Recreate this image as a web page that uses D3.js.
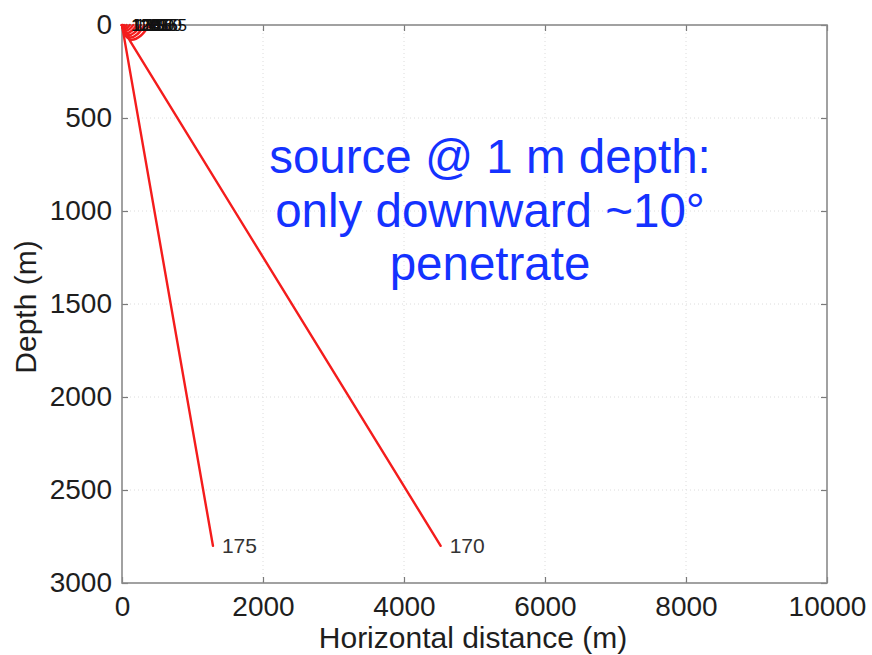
<!DOCTYPE html>
<html>
<head>
<meta charset="utf-8">
<script src="https://cdn.jsdelivr.net/npm/d3@7/dist/d3.min.js"></script>
<style>
  html, body { margin: 0; padding: 0; background: #fff; }
  svg { display: block; }
  text { font-family: "Liberation Sans", Arial, Helvetica, sans-serif; }
</style>
</head>
<body>
<svg id="chart" width="872" height="655"></svg>
<script>
// Axis ticks (metres)
const xTicks = [0, 2000, 4000, 6000, 8000, 10000];
const yTicks = [0, 500, 1000, 1500, 2000, 2500, 3000];

// Ray paths as [horizontal distance, depth] in metres, keyed by launch angle (deg)
const rayAngles = [120, 125, 130, 135, 140, 145, 150, 155, 160, 165, 170, 175];
const ray120 = [[0, 1], [0, 0]];
const ray125 = [[0, 1], [3, 2], [8, 0]];
const ray130 = [[0, 1], [6, 7], [12, 8], [22, 5], [30, 0]];
const ray135 = [[0, 1], [12, 12], [24, 14], [45, 10], [65, 0]];
const ray140 = [[0, 1], [20, 18], [40, 22], [75, 15], [110, 0]];
const ray145 = [[0, 1], [28, 26], [56, 31], [105, 22], [160, 0]];
const ray150 = [[0, 1], [38, 36], [75, 43], [140, 31], [210, 0]];
const ray155 = [[0, 1], [48, 46], [95, 55], [180, 40], [265, 0]];
const ray160 = [[0, 1], [58, 56], [115, 67], [220, 49], [320, 0]];
const ray165 = [[0, 1], [68, 66], [135, 79], [265, 58], [390, 0]];
const ray170 = [[0, 1], [50, 40], [120, 90], [4520, 2800]];
const ray175 = [[0, 1], [20, 45], [1290, 2800]];
const rayPaths = [ray120, ray125, ray130, ray135, ray140, ray145,
                  ray150, ray155, ray160, ray165, ray170, ray175];
const penetrating = [170, 175];

// Annotation
const noteLines = ["source @ 1 m depth:", "only downward ~10°", "penetrate"];

const svg = d3.select("#chart");
const W = 872, H = 655;
const plot = { left: 122, right: 827, top: 25, bottom: 583 };

const x = d3.scaleLinear().domain([0, 10000]).range([plot.left, plot.right]);
const y = d3.scaleLinear().domain([0, 3000]).range([plot.top, plot.bottom]);

svg.append("rect").attr("width", W).attr("height", H).attr("fill", "#fff");

// Dotted grid
const grid = svg.append("g").attr("stroke", "#dcdcdc").attr("stroke-width", 1)
  .attr("stroke-dasharray", "1,3");
grid.selectAll("line.gx").data(xTicks.slice(1, -1)).join("line")
  .attr("x1", d => x(d)).attr("x2", d => x(d))
  .attr("y1", plot.top).attr("y2", plot.bottom);
grid.selectAll("line.gy").data(yTicks.slice(1, -1)).join("line")
  .attr("x1", plot.left).attr("x2", plot.right)
  .attr("y1", d => y(d)).attr("y2", d => y(d));

// Axes with inward ticks on all four sides
const tickColor = "#7a7a7a";
function styleAxis(g, fontSize) {
  g.select(".domain").remove();
  g.selectAll(".tick line").attr("stroke", tickColor).attr("stroke-width", 1.2);
  g.selectAll(".tick text").attr("fill", "#1e1e1e")
    .style("font-size", fontSize + "px")
    .style("font-family", "'Liberation Sans', Arial, sans-serif");
}

svg.append("g").attr("transform", `translate(0,${plot.bottom})`)
  .call(d3.axisBottom(x).tickValues(xTicks).tickFormat(d3.format("d"))
    .tickSizeInner(-6).tickSizeOuter(0).tickPadding(13))
  .call(g => styleAxis(g, 28));

svg.append("g").attr("transform", `translate(${plot.left},0)`)
  .call(d3.axisLeft(y).tickValues(yTicks).tickFormat(d3.format("d"))
    .tickSizeInner(-6).tickSizeOuter(0).tickPadding(10))
  .call(g => styleAxis(g, 28));

svg.append("g").attr("transform", `translate(0,${plot.top})`)
  .call(d3.axisTop(x).tickValues(xTicks).tickFormat("")
    .tickSizeInner(-6).tickSizeOuter(0))
  .call(g => styleAxis(g, 28));

svg.append("g").attr("transform", `translate(${plot.right},0)`)
  .call(d3.axisRight(y).tickValues(yTicks).tickFormat("")
    .tickSizeInner(-6).tickSizeOuter(0))
  .call(g => styleAxis(g, 28));

// Frame
svg.append("rect")
  .attr("x", plot.left).attr("y", plot.top)
  .attr("width", plot.right - plot.left).attr("height", plot.bottom - plot.top)
  .attr("fill", "none").attr("stroke", "#8a8a8a").attr("stroke-width", 1.6);

// Axis titles
svg.append("text")
  .attr("x", 473).attr("y", 648)
  .attr("text-anchor", "middle").attr("fill", "#1e1e1e")
  .style("font-size", "30px").text("Horizontal distance (m)");

svg.append("text")
  .attr("transform", "translate(36,307) rotate(-90)")
  .attr("text-anchor", "middle").attr("fill", "#1e1e1e")
  .style("font-size", "30px").text("Depth (m)");

// Rays
const rays = rayAngles.map((a, i) => ({ angle: a, pts: rayPaths[i] }));
const turnLine = d3.line().x(d => x(d[0])).y(d => y(d[1])).curve(d3.curveMonotoneX);
const straightLine = d3.line().x(d => x(d[0])).y(d => y(d[1]));

svg.append("g").selectAll("path").data(rays).join("path")
  .attr("d", d => penetrating.includes(d.angle) ? straightLine(d.pts) : turnLine(d.pts))
  .attr("fill", "none").attr("stroke", "#f41c1c").attr("stroke-width", 2.4)
  .attr("stroke-linejoin", "round").attr("stroke-linecap", "round");

// Launch-angle labels at each ray's end point
svg.append("g").selectAll("text").data(rays).join("text")
  .attr("x", d => x(d.pts[d.pts.length - 1][0]) + 9)
  .attr("y", d => y(d.pts[d.pts.length - 1][1]))
  .attr("dy", "0.35em")
  .attr("fill", d => penetrating.includes(d.angle) ? "#333" : "#111")
  .style("font-size", d => penetrating.includes(d.angle) ? "21px" : "17px")
  .text(d => d.angle);

// Annotation
svg.append("g").selectAll("text").data(noteLines).join("text")
  .attr("x", 490).attr("y", (d, i) => 173 + i * 53.5)
  .attr("text-anchor", "middle").attr("fill", "#1432ff")
  .style("font-size", "47.5px").text(d => d);
</script>
</body>
</html>
